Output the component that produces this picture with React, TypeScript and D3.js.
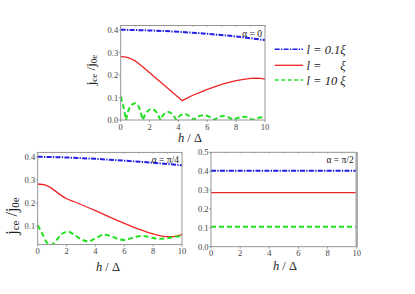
import React from "react";
import * as d3 from "d3";

// ---------- data ----------
const xTicks = [0, 2, 4, 6, 8, 10];

// panel alpha = 0
const a0Blue: [number, number][] = [[0, 0.401], [2, 0.398], [4, 0.392], [6, 0.383], [8, 0.371], [10, 0.355]];
const a0Red: [number, number][] = [[0, 0.282], [0.25, 0.281], [0.5, 0.277], [0.75, 0.271], [1, 0.263], [1.5, 0.238], [2, 0.21], [3, 0.156], [4.27, 0.086], [4.6, 0.097], [5, 0.11], [5.5, 0.123], [6, 0.136], [6.5, 0.147], [7, 0.158], [7.5, 0.167], [8, 0.175], [8.5, 0.181], [9, 0.185], [9.4, 0.186], [9.7, 0.185], [10, 0.182]];
const a0Green: [number, number][] = [[0, 0.104], [0.18, 0.062], [0.37, 0.0], [0.6, 0.052], [1.0, 0.075], [1.3, 0.052], [1.52, 0.0], [1.8, 0.035], [2.15, 0.049], [2.5, 0.033], [2.75, 0.0], [3.0, 0.026], [3.3, 0.036], [3.6, 0.024], [3.85, 0.0], [4.1, 0.019], [4.45, 0.027], [4.75, 0.018], [5.05, 0.0], [5.35, 0.015], [5.75, 0.021], [6.15, 0.014], [6.5, 0.0], [6.75, 0.012], [7.1, 0.018], [7.45, 0.012], [7.8, 0.0], [8.15, 0.01], [8.55, 0.014], [8.9, 0.009], [9.15, 0.0], [9.5, 0.009], [10, 0.013]];

// panel alpha = pi/4
const a4Blue: [number, number][] = [[0, 0.401], [2, 0.398], [4, 0.392], [6, 0.384], [8, 0.375], [10, 0.364]];
const a4Red: [number, number][] = [[0, 0.283], [0.5, 0.279], [1, 0.263], [1.5, 0.239], [2, 0.219], [2.5, 0.207], [3, 0.194], [4, 0.167], [5, 0.139], [6, 0.112], [7, 0.087], [8, 0.066], [8.6, 0.057], [9.2, 0.054], [9.6, 0.057], [10, 0.065]];
const a4Green: [number, number][] = [[0, 0.104], [0.3, 0.07], [0.6, 0.032], [0.9, 0.017], [1.3, 0.04], [1.7, 0.068], [2.1, 0.076], [2.6, 0.06], [3.0, 0.043], [3.5, 0.034], [4.0, 0.047], [4.6, 0.063], [5.1, 0.056], [5.6, 0.044], [6.0, 0.04], [6.6, 0.05], [7.2, 0.058], [7.8, 0.052], [8.4, 0.045], [9.0, 0.048], [9.5, 0.054], [10, 0.057]];

// panel alpha = pi/2
const a2Blue: [number, number][] = [[0, 0.402], [10, 0.402]];
const a2Red: [number, number][] = [[0, 0.286], [10, 0.286]];
const a2Green: [number, number][] = [[0, 0.106], [10, 0.106]];

const legendLabels = ["l = 0.1\u03be", "l =      \u03be", "l = 10 \u03be"];

const BLUE = "#1f1fe6";
const RED = "#ee2424";
const GREEN = "#22e022";
const FONT = "'Liberation Serif', 'DejaVu Serif', serif";

type Series = { data: [number, number][]; color: string; dash?: string; width: number; curve: any; cusps?: boolean };

interface PanelProps {
  id: string;
  x0: number; x1: number; y0: number; y1: number;
  yDomain: [number, number];
  yTicks: number[];
  series: Series[];
  alpha: string;
  yLabel?: { x: number; y: number; big: number; small: number };
  xLabel: { x: number; y: number };
  thickRight?: boolean;
}

function buildPath(s: Series, xs: any, ys: any): string {
  const line = d3.line<[number, number]>().x(d => xs(d[0])).y(d => ys(d[1])).curve(s.curve);
  if (!s.cusps) return line(s.data) || "";
  // split at zero points so that each arch is smooth but zeros are sharp cusps
  const segs: [number, number][][] = [];
  let cur: [number, number][] = [];
  s.data.forEach((d, i) => {
    cur.push(d);
    if (d[1] === 0 && i > 0 && i < s.data.length - 1) {
      segs.push(cur);
      cur = [d];
    }
  });
  if (cur.length > 1) segs.push(cur);
  return segs
    .map((seg, i) => {
      const p = line(seg) || "";
      return i === 0 ? p : "L" + p.slice(1);
    })
    .join("");
}

function Panel(p: PanelProps) {
  const xs = d3.scaleLinear().domain([0, 10]).range([p.x0, p.x1]);
  const ys = d3.scaleLinear().domain(p.yDomain).range([p.y1, p.y0]);
  const minor = d3.range(0, 10.01, 1);
  return (
    <g>
      <defs>
        <clipPath id={p.id}>
          <rect x={p.x0} y={p.y0} width={p.x1 - p.x0} height={p.y1 - p.y0} />
        </clipPath>
      </defs>
      <g clipPath={`url(#${p.id})`}>
        {p.series.map((s, i) => (
          <path key={i} d={buildPath(s, xs, ys)} fill="none" stroke={s.color} strokeWidth={s.width} strokeDasharray={s.dash} />
        ))}
      </g>
      <rect x={p.x0} y={p.y0} width={p.x1 - p.x0} height={p.y1 - p.y0} fill="none" stroke="#8a8a8a" strokeWidth={0.9} />
      {p.thickRight && <line x1={p.x1} x2={p.x1} y1={p.y0} y2={p.y1} stroke="#aaaaaa" strokeWidth={2.5} />}
      {minor.map(t => (
        <g key={"m" + t}>
          <line x1={xs(t)} x2={xs(t)} y1={p.y0} y2={p.y0 + 1.5} stroke="#999" strokeWidth={0.6} />
        </g>
      ))}
      {xTicks.map(t => (
        <g key={"x" + t}>
          <line x1={xs(t)} x2={xs(t)} y1={p.y1} y2={p.y1 + 2} stroke="#777" strokeWidth={0.7} />
          <text x={xs(t)} y={p.y1 + 9.5} fontSize={8.5} fontFamily={FONT} fill="#444" textAnchor="middle">{t}</text>
        </g>
      ))}
      {p.yTicks.map(t => (
        <g key={"y" + t}>
          <line x1={p.x0 - 2} x2={p.x0} y1={ys(t)} y2={ys(t)} stroke="#777" strokeWidth={0.7} />
          <text x={p.x0 - 2.5} y={ys(t) + 3} fontSize={8.5} fontFamily={FONT} fill="#444" textAnchor="end">{t.toFixed(1)}</text>
        </g>
      ))}
      <text x={p.x1 - 3} y={p.y0 + 11} fontSize={9.5} fontFamily={FONT} fill="#222" textAnchor="end">{p.alpha}</text>
      <text x={p.xLabel.x} y={p.xLabel.y} fontSize={12.5} fontFamily={FONT} fill="#222" textAnchor="middle">
        <tspan fontStyle="italic">h</tspan> / {"\u0394"}
      </text>
      {p.yLabel && (
        <text transform={`translate(${p.yLabel.x},${p.yLabel.y}) rotate(-90)`} fontFamily={FONT} fill="#222" textAnchor="middle" fontSize={p.yLabel.big}>
          j<tspan fontSize={p.yLabel.small} dy={2}>ce</tspan><tspan dy={-2}> /j</tspan><tspan fontSize={p.yLabel.small} dy={2}>0e</tspan>
        </text>
      )}
    </g>
  );
}

export default function App() {
  const mk = (b: [number, number][], r: [number, number][], g: [number, number][], rc: any, gc: any, cusps: boolean): Series[] => [
    { data: b, color: BLUE, dash: "5,1.3,1.3,1.3", width: 2, curve: d3.curveMonotoneX },
    { data: r, color: RED, width: 1.3, curve: rc },
    { data: g, color: GREEN, dash: "5,3", width: 2, curve: gc, cusps },
  ];
  const legendY = [49.3, 65.3, 80];
  const legendStyles = [
    { color: BLUE, dash: "5,1.3,1.3,1.3", width: 1.6 },
    { color: RED, dash: undefined, width: 1.3 },
    { color: GREEN, dash: "4,2.5", width: 1.6 },
  ];
  return (
    <svg width={415} height={294} style={{ position: "absolute", left: 0, top: 0, background: "#fff" }}>
      <Panel id="c1" x0={120.7} x1={265} y0={25.5} y1={120} yDomain={[0, 0.42]} yTicks={[0, 0.1, 0.2, 0.3, 0.4]}
        series={mk(a0Blue, a0Red, a0Green, d3.curveLinear, d3.curveMonotoneX, true)} alpha={"\u03b1 = 0"}
        yLabel={{ x: 95, y: 70, big: 13, small: 9 }} xLabel={{ x: 190, y: 142 }} />
      <Panel id="c3" x0={37.7} x1={182} y0={152.4} y1={244.6} yDomain={[0.02, 0.42]} yTicks={[0.1, 0.2, 0.3, 0.4]}
        series={mk(a4Blue, a4Red, a4Green, d3.curveMonotoneX, d3.curveMonotoneX, false)} alpha={"\u03b1 = \u03c0/4"}
        yLabel={{ x: 17, y: 216, big: 16, small: 11 }} xLabel={{ x: 108, y: 271 }} />
      <Panel id="c4" x0={211} x1={356.7} y0={152.3} y1={246.7} yDomain={[0, 0.5]} yTicks={[0, 0.1, 0.2, 0.3, 0.4, 0.5]}
        series={mk(a2Blue, a2Red, a2Green, d3.curveLinear, d3.curveLinear, false)} alpha={"\u03b1 = \u03c0/2"}
        xLabel={{ x: 285, y: 270 }} thickRight />
      {legendLabels.map((l, i) => (
        <g key={i}>
          <line x1={274.7} x2={303} y1={legendY[i]} y2={legendY[i]} stroke={legendStyles[i].color} strokeWidth={legendStyles[i].width} strokeDasharray={legendStyles[i].dash} />
          <text x={306.5} y={legendY[i] + 4.5} fontSize={12.5} fontFamily={FONT} fontStyle="italic" fill="#222" xmlSpace="preserve" style={{ whiteSpace: "pre" }}>{l}</text>
        </g>
      ))}
    </svg>
  );
}
